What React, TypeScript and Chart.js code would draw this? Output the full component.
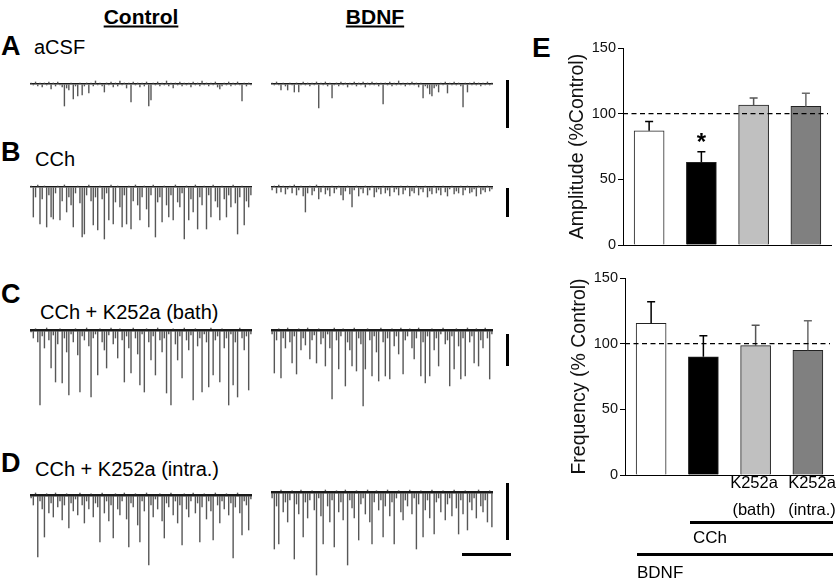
import React, { useEffect, useRef } from "react";
import { Chart, registerables } from "chart.js";

Chart.register(...registerables);

const FONT = '"Liberation Sans", Arial, Helvetica, sans-serif';

// ---------- Panel E data ----------
const groups = ["BDNF", "BDNF + CCh", "BDNF + CCh + K252a (bath)", "BDNF + CCh + K252a (intra.)"];
const amplitudeMean = [87, 63, 106.5, 105.5];
const amplitudeSem = [7, 8, 5.5, 10];
const amplitudeSig = ["", "*", "", ""];
const frequencyMean = [115.5, 90, 98.5, 95];
const frequencySem = [16.5, 16, 15.5, 22.5];
const frequencySig = ["", "", "", ""];
const barColors = ["#ffffff", "#000000", "#c0c0c0", "#808080"];
const errorColors = ["#000000", "#000000", "#555555", "#6a6a6a"];
const yTicks = [0, 50, 100, 150];
const referenceLevel = 100;

// ---------- Traces (downward = inward current) ----------
const traceACtrl = [
  1, -1, 2, -2, 1, -3, 1, -1, 2, -5,
  1, -2, 2, -1, -3, -22, -4, -6, 1, -15,
  -2, -12, 1, -11, -2, 1, -9, 1, -2, 3,
  -1, 1, -2, -8, 1, -1, 2, -3, 1, -2,
  3, -1, 1, -4, 1, -18, 2, -1, 1, -3,
  1, -2, 2, -22, -16, 1, -1, 2, -2, 1,
  -1, 3, -2, 1, -4, 1, -1, 2, -2, 1,
  -1, 1, -3, 2, -1, 1, -2, 3, -1, 1,
  -2, 1, -1, 2, -3, -5, -2, 1, -1, 2,
  -2, 1, -1, 2, -1, -17, 1, -2, 1, -1,
];
const traceABdnf = [
  1, -1, 2, -1, -6, 1, -2, -6, 1, -1,
  -8, 1, -8, -1, 2, -1, 1, -2, 1, -1,
  2, -24, 1, -1, 2, -2, 1, -14, -1, 1,
  -2, 2, -1, 1, -3, 1, -1, 2, -2, 1,
  -1, 2, -3, 1, -1, 2, -1, 1, -2, 1,
  -20, 1, -1, 2, -2, 1, -1, 3, -1, 1,
  -2, 1, -1, 2, -1, 1, -3, 1, -14, -2,
  -4, -10, -12, -4, -2, -8, 1, -1, 2, -9,
  1, -1, 2, -1, 1, -2, -23, 1, -8, 1,
  -1, 2, -1, 1, -2, 1, -1, 2, -1, 1,
];
const traceBCtrl = [
  1, -30, -10, 2, -37, -12, 1, -40, -8, -30,
  -32, -6, 1, -33, -14, 2, -25, -10, -18, -40,
  -6, 1, -16, -50, -47, -8, 2, -14, -38, -10,
  -43, 1, -12, -52, -6, -33, 2, -37, -15, 1,
  -20, -40, -8, -37, 1, -42, -14, 2, -18, -33,
  -10, 1, -22, -40, -8, 2, -50, -15, -10, -35,
  1, -18, -30, -8, -33, 2, -15, -20, -6, -52,
  1, -33, -12, -25, 2, -42, -10, -18, 1, -42,
  -8, -30, 2, -14, -20, -33, 1, -12, -30, -8,
  -20, 2, -16, -47, -10, 1, -38, -14, -20, -8,
];
const traceBBdnf = [
  -3, 1, -6, 2, -5, 1, -7, -2, 1, -6,
  2, -8, -3, 1, -9, -25, -6, 1, -8, -4,
  2, -12, -5, 1, -7, -3, -9, 1, -6, -2,
  1, -8, -13, -4, 1, -7, -20, -3, 1, -9,
  -2, -6, 1, -8, -3, 1, -10, -5, -2, -7,
  1, -6, -3, -9, 1, -5, -2, -8, 1, -7,
  -3, 1, -9, -4, -6, 1, -8, -2, -5, 1,
  -10, -4, -7, 1, -6, -3, -8, 1, -5, -9,
  -2, 1, -7, -4, -6, 1, -8, -3, 1, -6,
  -5, -2, -9, 1, -7, -3, -5, 1, -4, -2,
];
const traceCCtrl = [
  -2, -8, 1, -12, -75, -6, -18, 2, -10, -38,
  -5, -52, -14, 1, -53, -8, -22, -65, -4, -12,
  1, -25, -62, -6, -10, 2, -16, -67, -8, -4,
  -45, 1, -12, -20, -38, -5, 2, -14, -8, -28,
  1, -10, -52, -6, -18, -43, 2, -8, -24, -55,
  -4, -62, 1, -12, -30, -6, -45, 2, -10, -22,
  -8, -63, -4, -75, 1, -14, -30, -6, -48, 2,
  -10, -20, -5, -70, 1, -16, -8, -62, -4, -12,
  -57, 2, -45, -10, -6, -52, 1, -18, -8, -75,
  -4, -55, -12, -67, 2, -8, -20, -6, -60, -4,
];
const traceCBdnf = [
  -4, -43, -10, 1, -48, -8, -18, 2, -12, -33,
  -6, -44, 1, -20, -8, -15, 2, -29, -10, -5,
  -33, 1, -14, -8, -36, -4, -18, -69, 2, -10,
  -39, -6, 1, -56, -12, -20, -36, 2, -41, -8,
  -14, -76, -39, 1, -10, -46, -6, -22, -51, 2,
  -12, -46, -8, -49, 1, -16, -6, -24, 2, -44,
  -10, -6, 1, -18, -29, -8, 2, -46, -12, -53,
  -6, -46, 1, -20, -8, -36, -4, 2, -14, -10,
  -56, -6, -39, 1, -16, -49, -8, -46, 2, -12,
  -6, -33, 1, -36, -10, -18, 2, -8, -49, -4,
];
const traceDCtrl = [
  -3, -10, 2, -62, -6, -14, -42, 1, -18, -8,
  -22, 2, -12, -6, -25, -10, 1, -33, -8, -16,
  -4, -20, 2, -10, -28, -6, -14, 1, -22, -8,
  -12, -47, 2, -18, -6, -26, -10, -43, 1, -14,
  -20, -6, 2, -24, -52, -8, -12, 1, -30, -47,
  -6, -16, 2, -70, -10, -22, -4, -14, 1, -26,
  -43, -8, -12, 2, -20, -6, -28, -10, -50, 1,
  -14, -22, -6, 2, -18, -8, -47, -12, 1, -24,
  -6, -16, -45, 2, -10, -28, -6, -14, 1, -20,
  -8, -63, -12, 2, -18, -40, -6, -10, -35, -4,
];
const traceDBdnf = [
  -6, -57, -14, -52, 2, -20, -10, -30, -8, 1,
  -67, -12, -22, 2, -45, -10, -26, -8, 1, -18,
  -83, -6, -24, -52, 2, -14, -30, -8, -55, 1,
  -20, -10, -28, 2, -73, -8, -16, -26, 1, -48,
  -12, -6, -22, 2, -30, -52, -10, 1, -18, -8,
  -45, -14, 2, -24, -10, -52, -6, 1, -20, -28,
  -8, -14, 2, -22, -6, -57, -12, 1, -45, -18,
  -8, -26, 2, -42, -10, -6, -20, 1, -28, -12,
  -6, -24, 2, -16, -42, -8, -22, 1, -38, -10,
  -18, -6, -26, 2, -14, -20, -8, -30, 1, -35,
];

type TraceProps = {
  values: number[];
  left: number;
  baseline: number;
  width: number;
  depth: number;
  up: number;
  band: number;
};

// Each sample is drawn as a thin vertical deflection from the holding level (0),
// the holding level itself is the single grid line at 0.
function Trace({ values, left, baseline, width, depth, up, band }: TraceProps) {
  const ref = useRef<HTMLCanvasElement | null>(null);
  useEffect(() => {
    if (!ref.current) return;
    const chart = new Chart(ref.current, {
      type: "bar",
      data: {
        labels: values.map((_, i) => String(i)),
        datasets: [
          {
            data: values,
            backgroundColor: "#575757",
            borderWidth: 0,
            barThickness: 0.75,
          },
        ],
      },
      options: {
        animation: false,
        responsive: false,
        events: [],
        layout: { padding: 0 },
        plugins: { legend: { display: false }, tooltip: { enabled: false } },
        scales: {
          x: { display: false },
          y: {
            display: true,
            min: -depth,
            max: up,
            afterBuildTicks: (s: any) => {
              s.ticks = [{ value: 0 }];
            },
            afterFit: (s: any) => {
              s.width = 0;
            },
            ticks: { display: false },
            border: { display: false },
            grid: { display: true, drawTicks: false, color: "#1a1a1a", lineWidth: band },
          },
        },
      },
    });
    return () => chart.destroy();
  }, []);
  return (
    <canvas
      ref={ref}
      width={width}
      height={depth + up}
      style={{ position: "absolute", left, top: baseline - up, width, height: depth + up }}
    />
  );
}

const overlayPlugin = {
  id: "overlay",
  afterDatasetsDraw(chart: any) {
    const { ctx, chartArea } = chart;
    const yScale = chart.scales.y;
    const meta = chart.getDatasetMeta(0);
    const sems: number[] = chart.options.plugins.overlay.sems;
    const sig: string[] = chart.options.plugins.overlay.sig;
    const means: number[] = chart.data.datasets[0].data;
    ctx.save();
    meta.data.forEach((bar: any, i: number) => {
      const yTop = yScale.getPixelForValue(means[i]);
      const yErr = yScale.getPixelForValue(means[i] + sems[i]);
      ctx.strokeStyle = errorColors[i];
      ctx.lineWidth = 1.5;
      ctx.beginPath();
      ctx.moveTo(bar.x, yTop);
      ctx.lineTo(bar.x, yErr);
      ctx.moveTo(bar.x - 4, yErr);
      ctx.lineTo(bar.x + 4, yErr);
      ctx.stroke();
      if (sig[i]) {
        ctx.fillStyle = "#000";
        ctx.font = `bold 24px ${FONT}`;
        ctx.textAlign = "center";
        ctx.textBaseline = "middle";
        ctx.fillText(sig[i], bar.x, yErr - 8);
      }
    });
    const yRef = yScale.getPixelForValue(referenceLevel);
    ctx.strokeStyle = "#000";
    ctx.lineWidth = 1.3;
    ctx.setLineDash([5, 3.5]);
    ctx.beginPath();
    ctx.moveTo(chartArea.left, yRef);
    ctx.lineTo(chartArea.right - 4, yRef);
    ctx.stroke();
    ctx.setLineDash([]);
    ctx.lineWidth = 1;
    ctx.beginPath();
    ctx.moveTo(chartArea.left, chartArea.bottom + 0.5);
    ctx.lineTo(chartArea.right, chartArea.bottom + 0.5);
    ctx.stroke();
    ctx.restore();
  },
};

type BarProps = { means: number[]; sems: number[]; sig: string[]; title: string; left: number; top: number };

function BarPanel({ means, sems, sig, title, left, top }: BarProps) {
  const ref = useRef<HTMLCanvasElement | null>(null);
  useEffect(() => {
    if (!ref.current) return;
    const chart = new Chart(ref.current, {
      type: "bar",
      data: {
        labels: groups,
        datasets: [
          {
            data: means,
            backgroundColor: barColors,
            borderColor: "#222",
            borderWidth: 1,
            barThickness: 30,
            borderSkipped: "bottom",
          },
        ],
      },
      options: {
        animation: false,
        responsive: false,
        events: [],
        layout: { padding: { left: 0, right: 8, top: 48, bottom: 15 } },
        plugins: {
          legend: { display: false },
          tooltip: { enabled: false },
          // @ts-ignore
          overlay: { sems, sig },
        },
        scales: {
          x: { display: false },
          y: {
            min: 0,
            max: 150,
            afterBuildTicks: (s: any) => {
              s.ticks = yTicks.map((v) => ({ value: v }));
            },
            afterFit: (s: any) => {
              s.width = 63;
            },
            ticks: { font: { family: FONT, size: 14.5 }, color: "#111", padding: 2 },
            grid: { display: true, drawOnChartArea: false, drawTicks: true, tickLength: 5, color: "#000", lineWidth: 1 },
            border: { display: true, color: "#000", width: 1 },
            title: {
              display: true,
              text: title,
              font: { family: FONT, size: 19.5 },
              color: "#111",
              padding: { top: 6, bottom: 0 },
            },
          },
        },
      },
      plugins: [overlayPlugin],
    });
    return () => chart.destroy();
  }, []);
  return (
    <canvas
      ref={ref}
      width={280}
      height={260}
      style={{ position: "absolute", left, top, width: 280, height: 260 }}
    />
  );
}

type LabelProps = { text: string; x: number; y: number; size: number; bold?: boolean; center?: boolean; underline?: boolean };

function Label({ text, x, y, size, bold, center, underline }: LabelProps) {
  return (
    <div
      style={{
        position: "absolute",
        left: x,
        top: y,
        transform: center ? "translate(-50%, -50%)" : "translate(0, -50%)",
        fontFamily: FONT,
        fontSize: size,
        fontWeight: bold ? 700 : 400,
        lineHeight: 1,
        whiteSpace: "nowrap",
        color: "#000",
        textDecoration: underline ? "underline" : "none",
        textDecorationThickness: underline ? "2px" : undefined,
        textUnderlineOffset: underline ? "2px" : undefined,
      }}
    >
      {text}
    </div>
  );
}

function Bar({ x, y, w, h }: { x: number; y: number; w: number; h: number }) {
  return <div style={{ position: "absolute", left: x, top: y, width: w, height: h, background: "#000" }} />;
}

export default function App() {
  return (
    <div
      style={{
        position: "absolute",
        left: 0,
        top: 0,
        width: 840,
        height: 583,
        background: "#fff",
        overflow: "hidden",
      }}
    >
      <Label text="Control" x={141} y={16} size={21} bold center underline />
      <Label text="BDNF" x={375} y={16} size={21} bold center underline />

      <Label text="A" x={1} y={46} size={27} bold />
      <Label text="aCSF" x={34} y={47} size={20} />
      <Label text="B" x={1} y={152} size={27} bold />
      <Label text="CCh" x={35} y={159} size={20} />
      <Label text="C" x={1} y={294} size={27} bold />
      <Label text="CCh + K252a (bath)" x={40} y={312} size={20} />
      <Label text="D" x={1} y={463} size={27} bold />
      <Label text="CCh + K252a (intra.)" x={35} y={469} size={20} />

      <Trace values={traceACtrl} left={30} baseline={84} width={222} depth={26} up={5} band={1.5} />
      <Trace values={traceABdnf} left={271} baseline={84} width={222} depth={26} up={5} band={1.5} />
      <Trace values={traceBCtrl} left={30} baseline={187} width={222} depth={55} up={5} band={1.5} />
      <Trace values={traceBBdnf} left={271} baseline={187} width={222} depth={28} up={5} band={1.5} />
      <Trace values={traceCCtrl} left={30} baseline={330} width={222} depth={78} up={5} band={2.5} />
      <Trace values={traceCBdnf} left={271} baseline={330} width={222} depth={79} up={5} band={2.5} />
      <Trace values={traceDCtrl} left={30} baseline={495} width={222} depth={74} up={5} band={2.5} />
      <Trace values={traceDBdnf} left={271} baseline={492} width={222} depth={86} up={5} band={2.5} />

      <Bar x={506} y={80} w={3} h={48} />
      <Bar x={506} y={188} w={3} h={29} />
      <Bar x={506} y={334} w={3} h={32} />
      <Bar x={506} y={483} w={3} h={57} />
      <Bar x={462} y={553} w={49} h={3} />

      <Label text="E" x={532} y={48} size={28} bold />
      <BarPanel means={amplitudeMean} sems={amplitudeSem} sig={amplitudeSig} title="Amplitude (%Control)" left={560} top={0} />
      <BarPanel means={frequencyMean} sems={frequencySem} sig={frequencySig} title="Frequency (% Control)" left={562} top={230} />

      <Label text="K252a" x={754} y={482} size={16.5} center />
      <Label text="(bath)" x={754} y={509} size={16.5} center />
      <Label text="K252a" x={812} y={482} size={16.5} center />
      <Label text="(intra.)" x={812} y={509} size={16.5} center />
      <Bar x={690} y={521} w={143} h={3} />
      <Label text="CCh" x={693} y={537} size={17} />
      <Bar x={637} y={553} w={196} h={3} />
      <Label text="BDNF" x={637} y={572} size={17} />
    </div>
  );
}
